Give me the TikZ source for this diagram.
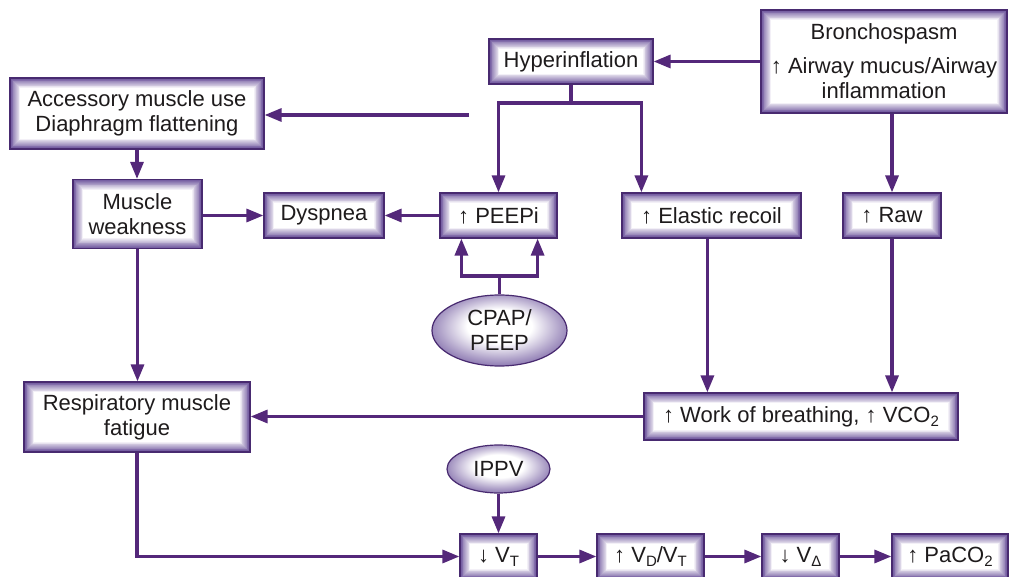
\documentclass[tikz,border=0pt]{standalone}
\usepackage{fontspec}
\setmainfont{Liberation Sans}
\usetikzlibrary{arrows.meta,shapes.geometric}

\definecolor{linepurple}{RGB}{84,40,122}
\definecolor{edgepurple}{RGB}{72,42,112}
\definecolor{bandpurple}{RGB}{100,74,150}
\definecolor{inkgray}{RGB}{30,27,28}

% soft oval fill: white core, purple rim
\pgfdeclareradialshading{ovalglow}{\pgfpoint{0bp}{4bp}}{%
  color(0bp)=(white); color(12bp)=(white); color(22bp)=(bandpurple!50!white);
  color(30bp)=(bandpurple!88!white); color(50bp)=(bandpurple)}

% lowered, smaller index letters (V_T, CO_2 ...)
\newcommand\lowidx[1]{\raisebox{-4pt}{\fontsize{15}{15}\selectfont #1}}

\tikzset{
  bevelbox/.style={rectangle, draw=edgepurple, line width=1.2pt, inner sep=0pt,
    align=center, text=inkgray, font=\fontsize{22}{25}\selectfont,
    path picture={
      \foreach \i in {0,...,12}{
        \pgfmathtruncatemacro\m{96-\i*8}
        \fill[bandpurple!\m!white]
          ([shift={(\i*0.85pt,\i*0.85pt)}]path picture bounding box.south west) rectangle
          ([shift={(-\i*0.85pt,-\i*0.85pt)}]path picture bounding box.north east);
      }
      \fill[white]
        ([shift={(11pt,11pt)}]path picture bounding box.south west) rectangle
        ([shift={(-11pt,-11pt)}]path picture bounding box.north east);
    }},
  ovalnode/.style={ellipse, draw=edgepurple, line width=1.2pt, inner sep=0pt,
    align=center, text=inkgray, font=\fontsize{22}{25}\selectfont,
    shading=ovalglow},
  flow/.style={draw=linepurple, line width=3.2pt, -{Triangle[length=17pt,width=13pt]}},
  plain/.style={draw=linepurple, line width=3.2pt},
}

\begin{document}
\begin{tikzpicture}[x=1pt, y=-1pt]
\useasboundingbox (0,0) rectangle (1012,577);

% ---- boxes ----
\node[bevelbox, minimum width=164pt, minimum height=45pt] (hyper) at (571,61.5) {Hyperinflation};
\node[bevelbox, minimum width=246pt, minimum height=103pt] (bron) at (884,61.5)
  {Bronchospasm\\[9pt]↑ Airway mucus/Airway\\inflammation};
\node[bevelbox, minimum width=254pt, minimum height=71pt] (acc) at (137,113.5)
  {Accessory muscle use\\Diaphragm flattening};
\node[bevelbox, minimum width=129pt, minimum height=69pt] (mw) at (137.5,214) {Muscle\\weakness};
\node[bevelbox, minimum width=120pt, minimum height=45pt] (dys) at (324,215.5) {Dyspnea};
\node[bevelbox, minimum width=117pt, minimum height=45pt] (peepi) at (498.5,215.5) {↑ PEEPi};
\node[bevelbox, minimum width=179pt, minimum height=45pt] (elastic) at (711.5,215.5) {↑ Elastic recoil};
\node[bevelbox, minimum width=98pt, minimum height=45pt] (raw) at (892,215.5) {↑ Raw};
\node[ovalnode, minimum width=135pt, minimum height=71pt] (cpap) at (499.5,330.5) {CPAP/\\PEEP};
\node[bevelbox, minimum width=226pt, minimum height=70pt] (rmf) at (137,417)
  {Respiratory muscle\\fatigue};
\node[bevelbox, minimum width=314pt, minimum height=47pt] (wob) at (801,416.5)
  {↑ Work of breathing, ↑ VCO\lowidx{2}};
\node[ovalnode, minimum width=103pt, minimum height=48pt] (ippv) at (498.5,469) {IPPV};
\node[bevelbox, minimum width=77pt, minimum height=45pt] (vt) at (498.5,556.5) {↓ V\lowidx{T}};
\node[bevelbox, minimum width=107pt, minimum height=45pt] (vdvt) at (650.5,556.5) {↑ V\lowidx{D}/V\lowidx{T}};
\node[bevelbox, minimum width=77pt, minimum height=45pt] (va) at (800.5,556.5) {↓ V\lowidx{Δ}};
\node[bevelbox, minimum width=116pt, minimum height=45pt] (paco2) at (950,556.5) {↑ PaCO\lowidx{2}};

% ---- connectors ----
\draw[flow] (bron.west) -- (hyper.east);

\coordinate (hsplit) at (571,103);
\draw[plain] (hyper.south) -- (hsplit);
\draw[flow] (hsplit) -| (peepi.north);
\draw[flow] (hsplit) -| ([xshift=20pt]elastic.north west);

\coordinate (feed) at (469,115);
\draw[flow] (feed) -- (acc.east |- feed);

\draw[flow] (acc.south) -- (acc.south |- mw.north);
\draw[flow] (mw.east |- dys) -- (dys.west);
\draw[flow] (peepi.west) -- (dys.east);

\coordinate (csplit) at (499.5,276);
\draw[plain] (cpap.north) -- (csplit);
\draw[flow] (csplit) -| ([xshift=22pt]peepi.south west);
\draw[flow] (csplit) -| ([xshift=-20pt]peepi.south east);

\draw[flow] (mw.south) -- (mw.south |- rmf.north);

\coordinate (ein) at ([xshift=64pt]wob.north west);
\draw[flow] (elastic.south -| ein) -- (ein);
\draw[flow] (raw.south) -- (raw.south |- wob.north);
\draw[flow] (bron.south -| raw) -- (raw.north);

\draw[flow] (wob.west) -- (wob.west -| rmf.east);
\draw[flow] (rmf.south) |- (vt.west);
\draw[flow] (ippv.south) -- (vt.north);

\draw[flow] (vt.east) -- (vdvt.west);
\draw[flow] (vdvt.east) -- (va.west);
\draw[flow] (va.east) -- (paco2.west);
\end{tikzpicture}
\end{document}
